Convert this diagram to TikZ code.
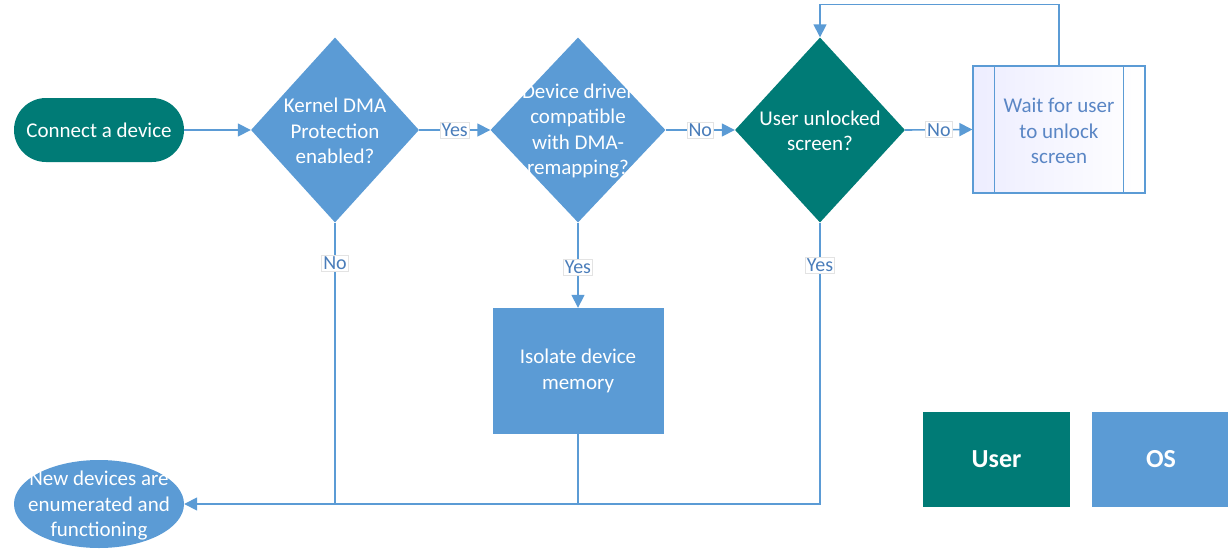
\documentclass[tikz,border=0pt]{standalone}
\usepackage{fontspec}
\setmainfont{Carlito}
\usetikzlibrary{shapes.geometric,shapes.misc,arrows.meta}
\definecolor{osblue}{HTML}{5B9BD5}
\definecolor{userteal}{HTML}{007B76}
\definecolor{lineblue}{HTML}{5B9BD5}
\definecolor{labtext}{HTML}{4A7DBA}
\definecolor{waittext}{HTML}{5A86C5}
\definecolor{labborder}{HTML}{E3E3E3}
\begin{document}
\begin{tikzpicture}[x=1pt,y=-1pt,
  txt/.style={text=white,align=center,font=\fontsize{21}{25.5}\selectfont},
  dia/.style={diamond,draw=none,minimum width=168pt,minimum height=185pt,inner sep=0pt},
  procbox/.style={rectangle,draw=none,fill=osblue,minimum width=171pt,minimum height=126pt,inner sep=0pt},
  legend/.style={rectangle,draw=none,minimum height=95pt,inner sep=0pt,text=white,font=\fontsize{26}{30}\selectfont\bfseries},
  conn/.style={draw=lineblue,line width=1.6pt},
  arr/.style={conn,-{Triangle[length=13pt,width=13pt]}},
  lab/.style={fill=white,draw=labborder,line width=0.6pt,inner sep=1.5pt,text=labtext,font=\fontsize{20}{23}\selectfont}
]
\useasboundingbox (0,0) rectangle (1228,551);

% start / end
\node[rounded rectangle,fill=userteal,minimum width=170pt,minimum height=64pt,inner sep=0pt,txt] (start) at (99,130) {Connect a device};
\node[ellipse,fill=osblue,minimum width=170pt,minimum height=88pt,inner sep=0pt] (nd) at (99,504) {};
\node[txt] (ndt) at (99,506) {New devices are\\enumerated and\\functioning};

% decisions
\node[dia,fill=osblue] (d1) at (335,130) {};
\node[txt] (d1t) at (335,131) {Kernel DMA\\Protection\\enabled?};
\node[dia,fill=osblue,minimum width=175pt] (d2) at (578,130) {};
\node[txt] (d2t) at (578,131) {Device driver\\compatible\\with DMA-\\remapping?};
\node[dia,fill=userteal,minimum width=170pt] (d3) at (820,130) {};
\node[txt] (d3t) at (820,131) {User unlocked\\screen?};

% wait box
\node[rectangle,draw=lineblue,line width=1.2pt,left color=blue!7,right color=white,minimum width=172pt,minimum height=127pt,inner sep=0pt] (w) at (1059,129.5) {};
\draw[draw=lineblue,line width=1.2pt] ([xshift=22pt]w.north west) -- ([xshift=22pt]w.south west);
\draw[draw=lineblue,line width=1.2pt] ([xshift=-22pt]w.north east) -- ([xshift=-22pt]w.south east);
\node[align=center,text=waittext,font=\fontsize{21}{25.5}\selectfont] (wt) at (1059,131) {Wait for user\\to unlock\\screen};

% isolate
\node[procbox] (iso) at (578,371) {};
\node[txt] (isot) at (578,371) {Isolate device\\memory};

% legend
\node[legend,fill=userteal,minimum width=147pt] (user) at (996.5,459.5) {User};
\node[legend,fill=osblue,minimum width=138pt] (os) at (1161,459.5) {OS};

% connectors
\draw[arr] (start.east) -- (d1.west);
\draw[arr] (d1.east) -- node[lab]{Yes} (d2.west);
\draw[arr] (d2.east) -- node[lab]{No} (d3.west);
\draw[arr] (d3.east) -- node[lab]{No} (w.west);
\draw[arr] (w.north) -- ++(0,-61) -| (d3.north);
\draw[arr] (d2.south) -- node[lab,pos=0.52]{Yes} (iso.north);

\coordinate (j1) at (d1.south |- nd.east);
\coordinate (j2) at (iso.south |- nd.east);
\draw[conn] (d1.south) -- node[lab,pos=0.145]{No} (j1);
\draw[conn] (iso.south) -- (j2);
\draw[arr] (d3.south) |- node[lab,pos=0.076]{Yes} (nd.east);
\end{tikzpicture}
\end{document}
